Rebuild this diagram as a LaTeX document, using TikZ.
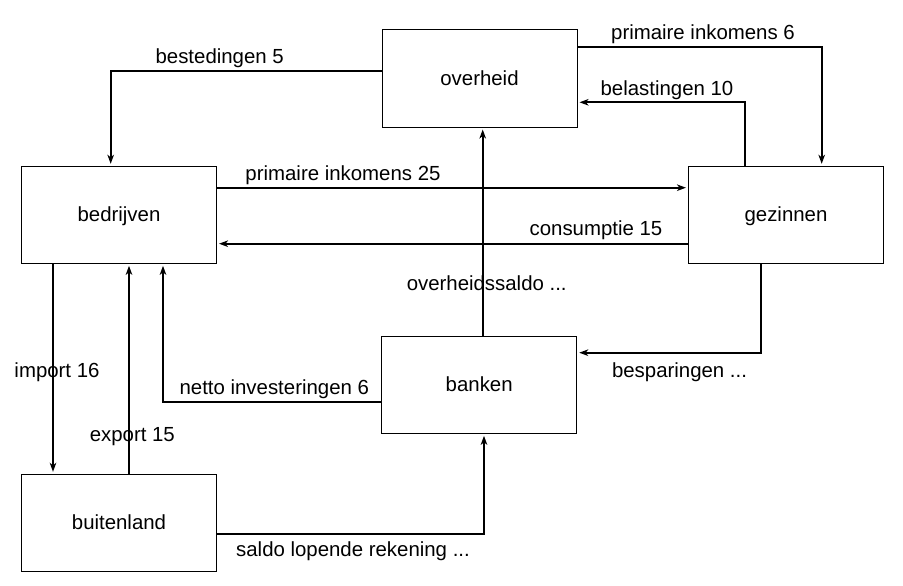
\documentclass[tikz,border=0pt]{standalone}
\usepackage{fontspec}
\setmainfont{Liberation Sans}
\usetikzlibrary{arrows.meta}
\begin{document}
\begin{tikzpicture}[x=1pt,y=-1pt,
  box/.style={draw,line width=1pt,minimum width=195pt,minimum height=97pt,inner sep=0pt,
    text height=13.6pt,text depth=0.6pt,font=\fontsize{20.4}{24}\selectfont},
  lbl/.style={anchor=base,inner sep=0pt,font=\fontsize{20.4}{24}\selectfont},
  flow/.style={line width=1.8pt,-{Stealth[length=9pt,width=6.5pt,inset=2.5pt]},shorten >=2pt}]
\useasboundingbox (0,0) rectangle (903,586);
\node[box] (ov) at (479.5,78.5) {overheid};
\node[box] (bd) at (119,214.8) {bedrijven};
\node[box] (gz) at (786,214.8) {gezinnen};
\node[box] (bk) at (479.2,384.8) {banken};
\node[box] (bl) at (119,522.8) {buitenland};
% connectors
\draw[flow] (ov.west |- 0,70.7) -| (110.7,0 |- bd.north);
\draw[flow] (ov.east |- 0,46.7) -| (821.7,0 |- gz.north);
\draw[flow] (745,0 |- gz.north) |- (ov.east |- 0,102.3);
\draw[flow] (bd.east |- 0,187.7) -- (gz.west |- 0,187.7);
\draw[flow] (gz.west |- 0,243.7) -- (bd.east |- 0,243.7);
\draw[flow] (482.7,0 |- bk.north) -- (482.7,0 |- ov.south);
\draw[flow] (761,0 |- gz.south) |- (bk.east |- 0,352.7);
\draw[flow] (bk.west |- 0,402) -| (163,0 |- bd.south);
\draw[flow] (53,0 |- bd.south) -- (53,0 |- bl.north);
\draw[flow] (129,0 |- bl.north) -- (129,0 |- bd.south);
\draw[flow] (bl.east |- 0,534) -| (484,0 |- bk.south);
% labels
\node[lbl] (l1) at (219.7,64) {bestedingen 5};
\node[lbl] (l2) at (703,40) {primaire inkomens 6};
\node[lbl] (l3) at (667,95.7) {belastingen 10};
\node[lbl] (l4) at (343,180.7) {primaire inkomens 25};
\node[lbl] (l5) at (596,235.7) {consumptie 15};
\node[lbl] (l6) at (486.7,290.7) {overheidssaldo ...};
\node[lbl] (l7) at (679.5,377.4) {besparingen ...};
\node[lbl] (l8) at (274.3,394.7) {netto investeringen 6};
\node[lbl] (l9) at (57,377.4) {import 16};
\node[lbl] (l10) at (132.3,441.4) {export 15};
\node[lbl] (l11) at (353,556) {saldo lopende rekening ...};
\end{tikzpicture}
\end{document}
